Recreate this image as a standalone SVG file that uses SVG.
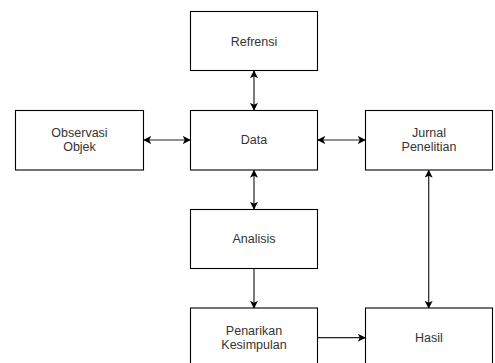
<svg xmlns="http://www.w3.org/2000/svg" width="495" height="363" viewBox="0 0 495 363">
<style>
.box{fill:#fff;stroke:#000;stroke-width:1.1}
.lbl{font-family:"Liberation Sans",Arial,sans-serif;font-size:12.5px;fill:#333;text-anchor:middle}
.edge{stroke:#222;stroke-width:1.2;fill:none}
</style>
<defs>
<marker id="ah" viewBox="0 0 10 10" refX="9" refY="5" markerWidth="8" markerHeight="8" markerUnits="userSpaceOnUse" orient="auto-start-reverse">
<path d="M0,0 L10,5 L0,10 L2.5,5 Z" fill="#000"/>
</marker>
</defs>
<rect width="495" height="363" fill="#fff"/>
<g id="connectors">
<line class="edge" x1="254" y1="71" x2="254" y2="110" marker-start="url(#ah)" marker-end="url(#ah)"/>
<line class="edge" x1="144" y1="140" x2="190" y2="140" marker-start="url(#ah)" marker-end="url(#ah)"/>
<line class="edge" x1="318" y1="140" x2="365" y2="140" marker-start="url(#ah)" marker-end="url(#ah)"/>
<line class="edge" x1="254" y1="170.5" x2="254" y2="209" marker-start="url(#ah)" marker-end="url(#ah)"/>
<line class="edge" x1="254" y1="269" x2="254" y2="308" marker-end="url(#ah)"/>
<line class="edge" x1="428.7" y1="170.5" x2="428.7" y2="308" marker-start="url(#ah)" marker-end="url(#ah)"/>
<line class="edge" x1="318" y1="337.7" x2="365" y2="337.7" marker-end="url(#ah)"/>
</g>
<g id="refrensi">
<rect class="box" x="190.5" y="11.5" width="127" height="59"/>
<text class="lbl" x="254" y="46">Refrensi</text>
</g>
<g id="observasi">
<rect class="box" x="15.5" y="110.5" width="128" height="59.5"/>
<text class="lbl" x="79.5" y="137">Observasi</text>
<text class="lbl" x="79.5" y="151">Objek</text>
</g>
<g id="data">
<rect class="box" x="190.5" y="110.5" width="127" height="59.5"/>
<text class="lbl" x="254" y="144">Data</text>
</g>
<g id="jurnal">
<rect class="box" x="365.5" y="110.5" width="127" height="59.5"/>
<text class="lbl" x="429" y="137">Jurnal</text>
<text class="lbl" x="429" y="151">Penelitian</text>
</g>
<g id="analisis">
<rect class="box" x="190.5" y="209.5" width="127" height="59"/>
<text class="lbl" x="254" y="243">Analisis</text>
</g>
<g id="penarikan">
<rect class="box" x="190.5" y="308" width="127" height="59"/>
<text class="lbl" x="254" y="334.5">Penarikan</text>
<text class="lbl" x="254" y="348.5">Kesimpulan</text>
</g>
<g id="hasil">
<rect class="box" x="365.5" y="308" width="127" height="59"/>
<text class="lbl" x="429" y="341.5">Hasil</text>
</g>
</svg>
